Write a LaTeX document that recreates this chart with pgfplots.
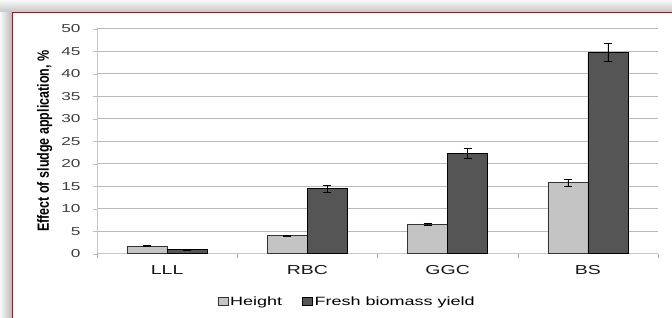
\documentclass[border=0pt]{standalone}
\usepackage{pgfplots}
\pgfplotsset{compat=1.18}
\usepackage{fontspec}
\setmainfont{Liberation Sans}
\definecolor{hgt}{HTML}{C4C4C4}
\definecolor{bio}{HTML}{555555}
\newcommand{\wide}[1]{\scalebox{1.5}[1]{#1}}
\pgfplotsset{myerr/.style={
  error bars/y dir=both, error bars/y explicit,
  error bars/error bar style={black, line width=0.6pt},
  error bars/error mark options={rotate=90, mark size=4pt, black, line width=0.6pt}}}
\begin{document}
\begin{tikzpicture}[x=1pt,y=1pt]
\useasboundingbox (0,0) rectangle (672,318);
\fill[white] (0,0) rectangle (672,318);
\shade[left color=gray!5, right color=gray!55] (0,0) rectangle (12,306);
\shade[top color=gray!5, bottom color=gray!45] (0,306) rectangle (672,318);
\draw[red!85!black, line width=1.2pt] (12.6,-5) -- (12.6,305.4) -- (680,305.4);
\begin{axis}[
  at={(97pt,64.3pt)}, anchor=south west,
  scale only axis, width=561pt, height=225pt,
  ymin=0, ymax=50, ytick={0,5,...,50},
  xmin=-0.5, xmax=3.5,
  ybar=0pt, bar width=40pt,
  xtick={0,1,2,3}, xticklabels={\wide{LLL},\wide{RBC},\wide{GGC},\wide{BS}},
  major x tick style={draw=none},
  extra x ticks={-0.5,0.5,1.5,2.5,3.5}, extra x tick labels={},
  extra x tick style={grid=none, major x tick style={draw=gray!70}},
  tick align=outside, major tick length=4pt,
  ytick style={draw=gray!50},
  ymajorgrids, grid style={gray!55, line width=0.6pt},
  axis x line*=bottom, axis y line*=left,
  axis line style={gray!45, line width=0.7pt},
  /pgf/number format/assume math mode=true,
  yticklabel={\wide{\pgfmathprintnumber{\tick}}},
  yticklabel style={font=\fontsize{11.5}{11.5}\selectfont, text=black!75, xshift=-9pt},
  xticklabel style={font=\fontsize{13}{13}\selectfont, text=black!90, yshift=-4pt},
  ylabel={\scalebox{1}[1.3]{\textbf{Effect of sludge application, \%}}},
  ylabel style={font=\fontsize{12.5}{12.5}\selectfont, at={(axis description cs:-0.093,0.5)}, anchor=center},
  legend style={at={(axis description cs:0.446,-0.213)}, anchor=center, draw=none, fill=none,
    font=\fontsize{12}{12}\selectfont},
  legend columns=2,
  legend image code/.code={\draw[#1, line width=0.5pt] (0pt,-4pt) rectangle (10pt,4pt);},
]
\addplot[fill=hgt, draw=black!80, line width=0.6pt, myerr] coordinates {
  (0,1.7) +- (0,0.1)
  (1,4.0) +- (0,0.15)
  (2,6.5) +- (0,0.3)
  (3,15.8) +- (0,0.8)
};
\addplot[fill=bio, draw=black, line width=0.6pt, myerr] coordinates {
  (0,0.9) +- (0,0.1)
  (1,14.5) +- (0,0.8)
  (2,22.3) +- (0,1.1)
  (3,44.7) +- (0,2.0)
};
\legend{\wide{Height}\rule{18pt}{0pt}, \wide{Fresh biomass yield}}
\end{axis}
\end{tikzpicture}
\end{document}
